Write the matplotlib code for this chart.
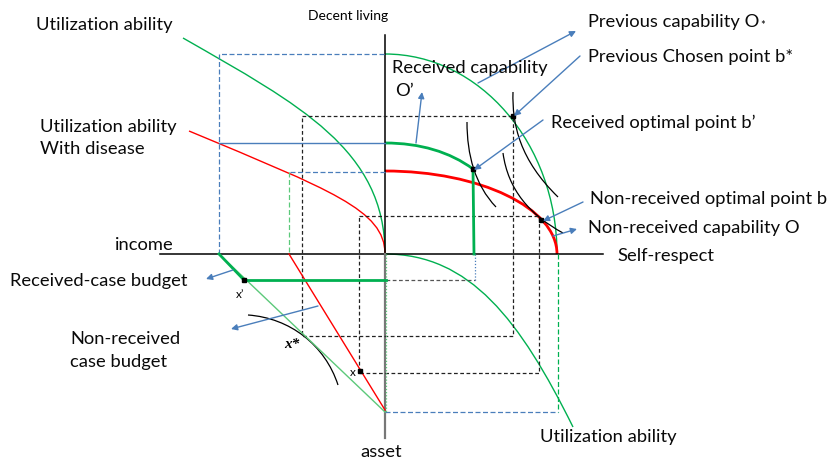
import matplotlib
matplotlib.use("Agg")
from matplotlib import pyplot as plt
from matplotlib.path import Path
from matplotlib.patches import PathPatch

plt.rcParams['font.family'] = ['Lato', 'DejaVu Sans']

# %%
# diagram coordinates (picture pixels, y down)
axis_h = [(160, 254), (603, 254)]
axis_v_top = [(385, 35), (385, 254)]
axis_v_bot = [(385, 254), (385, 438)]

# curves as cubic bezier control points
util_topleft = [(183, 38), (300, 105), (385, 150), (385, 254)]
util_disease = [(189, 131), (330, 190), (385, 210), (385, 254)]
util_botright = [(385, 254), (470, 254), (520, 320), (573, 427)]
cap_prev = [(385, 54), (480, 54), (557, 144), (557, 254)]
cap_nonrec = [(385, 171), (480, 171), (557, 208), (557, 254)]
cap_rec = [(385, 143), (420, 143), (450, 152), (473, 169)]
ic_bstar = [(513, 92), (512, 125), (520, 160), (558, 197)]
ic_bprime = [(467, 122), (467, 155), (475, 185), (496, 207)]
ic_b = [(503, 153), (508, 190), (530, 215), (563, 233)]
ic_xstar = [(248, 315), (290, 318), (325, 345), (338, 385)]

# straight lines
rec_vert = [(473, 169), (474, 254)]
rec_budget = [(244, 280), (386, 280)]
budget_thick = [(219, 254), (244, 280)]
budget_thin = [(219, 254), (385, 412)]
budget_red = [(289, 254), (385, 410)]
blue_solid = [(219, 143), (385, 143)]

# dashed guides
rect_bstar = [(302, 116), (513, 116), (513, 336), (302, 336), (302, 116)]
rect_b = [(359, 216), (539, 216), (539, 373), (359, 373), (359, 216)]
grey_280 = [(386, 280), (475, 280)]
blue_dash_top = [(219, 254), (219, 54), (385, 54)]
blue_dash_172 = [(290, 172), (385, 172)]
blue_dash_bot = [(385, 412), (558, 412)]
blue_dot_475 = [(475, 254), (475, 281)]
green_dash_289 = [(289, 172), (289, 254)]
green_dash_558 = [(558, 254), (558, 412)]
green_dot_386 = [(386, 254), (386, 412)]

# points
pts_x = [513, 473, 541, 244, 360]
pts_y = [116, 169, 220, 280, 371]

# arrows (tail, head)
arrows = [((478, 83), (576, 31)),
          ((580, 56), (514, 116)),
          ((416, 143), (422, 92)),
          ((543, 120), (474, 170)),
          ((583, 202), (543, 221)),
          ((553, 236), (577, 229)),
          ((233, 270), (206, 279)),
          ((318, 306), (231, 329))]

# labels
labels = [("Utilization ability", 36, 25),
          ("Previous capability O", 588, 22),
          ("Previous Chosen point b*", 588, 57),
          ("Received capability", 392, 68),
          ("O\u2019", 395, 91),
          ("Received optimal point b\u2019", 551, 123),
          ("Utilization ability", 40, 127),
          ("With disease", 40, 149),
          ("Non-received optimal point b", 590, 199),
          ("Non-received capability O", 588, 228),
          ("income", 115, 245),
          ("Self-respect", 617, 256),
          ("Received-case budget", 10, 281),
          ("Non-received", 70, 339),
          ("case budget", 70, 362),
          ("Utilization ability", 540, 437),
          ("asset", 360, 452)]

green = '#00B050'
green_light = '#5CC97A'
red = '#FF0000'
blue = '#4A7EBB'

# %%
fig = plt.figure(figsize=(8.32, 4.66), dpi=100)
ax = fig.add_axes([0, 0, 1, 1])
ax.set_xlim(0, 832)
ax.set_ylim(466, 0)
ax.axis('off')


def line(pts, **kw):
    ax.plot([p[0] for p in pts], [p[1] for p in pts], **kw)


def bez(pts, **kw):
    path = Path(pts, [Path.MOVETO, Path.CURVE4, Path.CURVE4, Path.CURVE4])
    ax.add_patch(PathPatch(path, fill=False, **kw))


# axes of the diagram
line(axis_h, color='black', lw=1.1)
line(axis_v_top, color='black', lw=1.1)
line(axis_v_bot, color='#777777', lw=1.6)

# dashed guides
line(rect_bstar, color='#222222', lw=0.9, ls=(0, (3, 2)))
line(rect_b, color='#222222', lw=0.9, ls=(0, (3, 2)))
line(grey_280, color='#555555', lw=0.9, ls=(0, (3, 2)))
line(blue_dash_top, color=blue, lw=0.9, ls=(0, (4, 2)))
line(blue_dash_172, color=blue, lw=0.9, ls=(0, (4, 2)))
line(blue_dash_bot, color=blue, lw=0.9, ls=(0, (4, 2)))
line(blue_dot_475, color=blue, lw=0.9, ls=(0, (1, 1.5)))
line(green_dash_289, color=green_light, lw=0.9, ls=(0, (4, 2)))
line(green_dash_558, color=green, lw=0.9, ls=(0, (4, 2)))
line(green_dot_386, color=green_light, lw=0.9, ls=(0, (1, 1.5)))
line(blue_solid, color=blue, lw=1.0)

# utilization curves
bez(util_topleft, color=green, lw=1.0)
bez(util_disease, color=red, lw=1.0)
bez(util_botright, color=green, lw=1.0)

# capability sets
bez(cap_prev, color=green, lw=1.0)
bez(cap_nonrec, color=red, lw=2.0)
bez(cap_rec, color=green, lw=2.0)
line(rec_vert, color=green, lw=2.0)

# indifference curves
for ic in [ic_bstar, ic_bprime, ic_b, ic_xstar]:
    bez(ic, color='black', lw=0.9)

# budgets
line(budget_thin, color=green_light, lw=1.0)
line(budget_thick, color=green, lw=2.0)
line(budget_red, color=red, lw=1.0)
line(rec_budget, color=green, lw=2.0)

ax.plot(pts_x, pts_y, 's', color='black', ms=3)

for tail, head in arrows:
    ax.annotate('', xy=head, xytext=tail,
                arrowprops=dict(arrowstyle='-|>', color=blue, lw=1.0,
                                mutation_scale=9, shrinkA=0, shrinkB=0))

for txt, x, y in labels:
    ax.text(x, y, txt, fontsize=13.2, ha='left', va='center', color='#0a0a0a')

ax.text(308, 16, "Decent living", fontsize=10, ha='left', va='center')
ax.text(760, 25, "*", fontsize=8, ha='left', va='center')
ax.text(236, 294, "x\u2019", fontsize=8.5, ha='left', va='center')
ax.text(284, 345, "x*", fontsize=11, ha='left', va='center',
        family='Liberation Serif', style='italic', weight='bold')
ax.text(350, 373, "x", fontsize=8.5, ha='left', va='center')

fig.savefig('out.png', dpi=100)
